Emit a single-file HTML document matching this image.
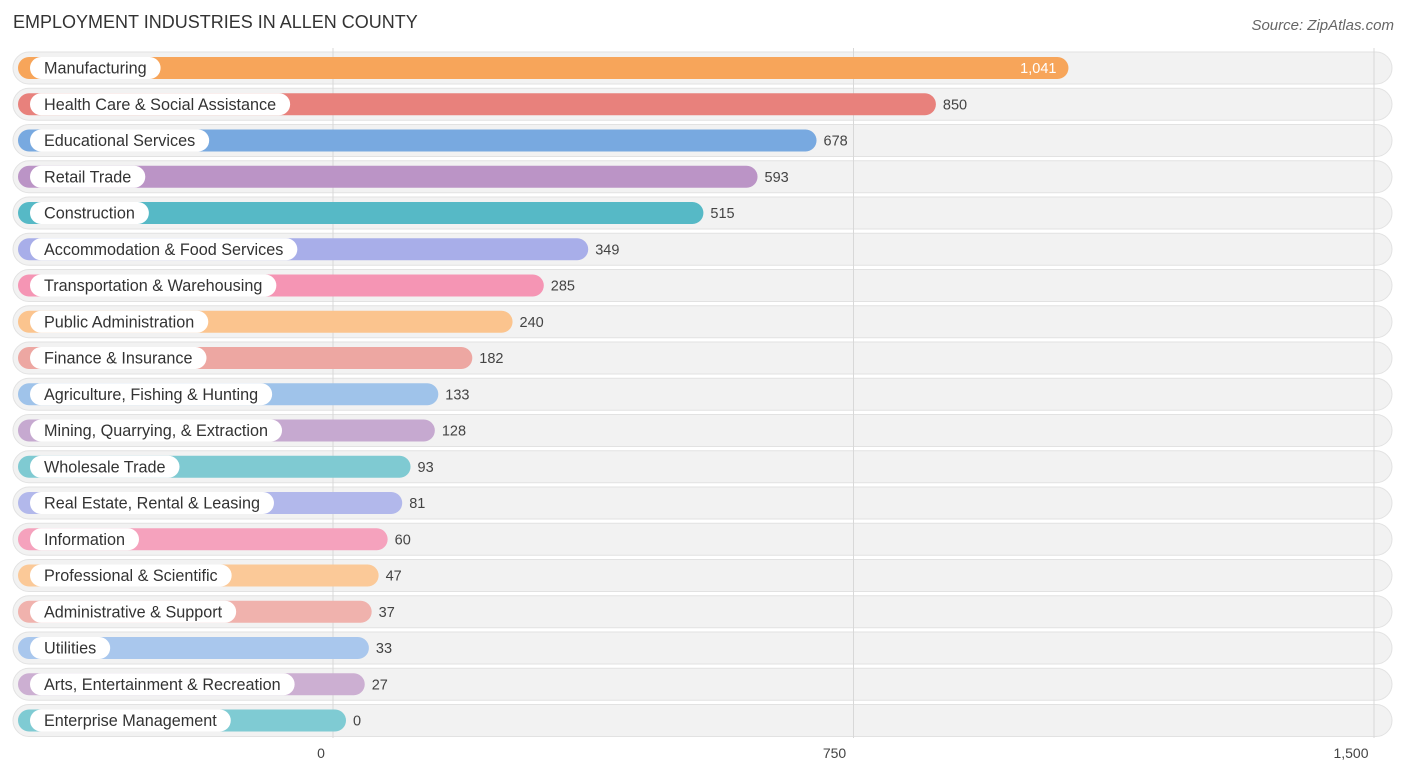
<!DOCTYPE html>
<html><head><meta charset="utf-8"><style>
body{margin:0;background:#fff;font-family:"Liberation Sans",sans-serif;}
svg{display:block}
</style></head><body>
<svg id="c" width="1406" height="776" xmlns="http://www.w3.org/2000/svg">
<text x="13" y="28" font-size="18" fill="#333">EMPLOYMENT INDUSTRIES IN ALLEN COUNTY</text>
<text x="1394" y="30" font-size="15" fill="#666" font-style="italic" text-anchor="end">Source: ZipAtlas.com</text>
<g id="bgs"></g><g id="grid"></g><g id="rows"></g><g id="ticks"></g>
</svg>
<script>
const categories=["Manufacturing","Health Care & Social Assistance","Educational Services","Retail Trade","Construction","Accommodation & Food Services","Transportation & Warehousing","Public Administration","Finance & Insurance","Agriculture, Fishing & Hunting","Mining, Quarrying, & Extraction","Wholesale Trade","Real Estate, Rental & Leasing","Information","Professional & Scientific","Administrative & Support","Utilities","Arts, Entertainment & Recreation","Enterprise Management"];
const values=[1041,850,678,593,515,349,285,240,182,133,128,93,81,60,47,37,33,27,0];
const colors=["#f7a55a","#e8817c","#78a9e0","#bb94c6","#56b9c6","#a8aee9","#f595b4","#fbc48e","#eda7a2","#9fc3ea","#c6a9d0","#7fcad2","#b2b8eb","#f5a2bd","#fbc998","#f0b2ad","#a9c7ed","#ccafd2","#7fcbd3"];
const tickVals=[0,750,1500];
const tickLabels=["0","750","1,500"];
const NS="http://www.w3.org/2000/svg";
const x0=333, sc=(1374-333)/1500;
const xs=v=>x0+v*sc;
const rowY=i=>68+i*36.25;
function mk(t,a,p){const e=document.createElementNS(NS,t);for(const k in a)e.setAttribute(k,a[k]);p.appendChild(e);return e;}
const bgs=document.getElementById('bgs'),grid=document.getElementById('grid'),rows=document.getElementById('rows'),ticks=document.getElementById('ticks');
const tickOff=[-12,-19,-23];
tickVals.forEach((v,i)=>{
 const l=mk('line',{x1:xs(v),x2:xs(v),y1:48,y2:738,stroke:'#d8d8d8','stroke-width':1},grid);
 
 
 const t=mk('text',{x:xs(v)+tickOff[i],y:758,'font-size':14,fill:'#444','text-anchor':'middle'},ticks);
 t.textContent=tickLabels[i];
 
 
});
categories.forEach((c,i)=>{
 const y=rowY(i);
 const bg=mk('rect',{x:13,y:y-16,width:1379,height:32,rx:16,fill:'#f2f2f2',stroke:'#e2e2e2'},bgs);
 
 
 const g=mk('g',{},rows);
 
 
 const end=xs(values[i])+13;
 const b=mk('rect',{x:18,y:y-11,width:end-18,height:22,rx:11,fill:colors[i]},g);
 
 
 const lab=mk('text',{x:44,y:y+5.5,'font-size':16.2,fill:'#333'},g);
 lab.textContent=c;
 const w=lab.getComputedTextLength();
 const pill=mk('rect',{x:30,y:y-11,width:w+28,height:22,rx:11,fill:'#fff'},g);
 g.insertBefore(pill,lab);
 
 
 const inside=i==0;
 const vt=mk('text',{x:inside?end-12:end+7,y:y+5,'font-size':14.5,fill:inside?'#fff':'#444','text-anchor':inside?'end':'start'},g);
 vt.textContent=values[i].toLocaleString('en-US');
 
 
});
</script>
</body></html>
